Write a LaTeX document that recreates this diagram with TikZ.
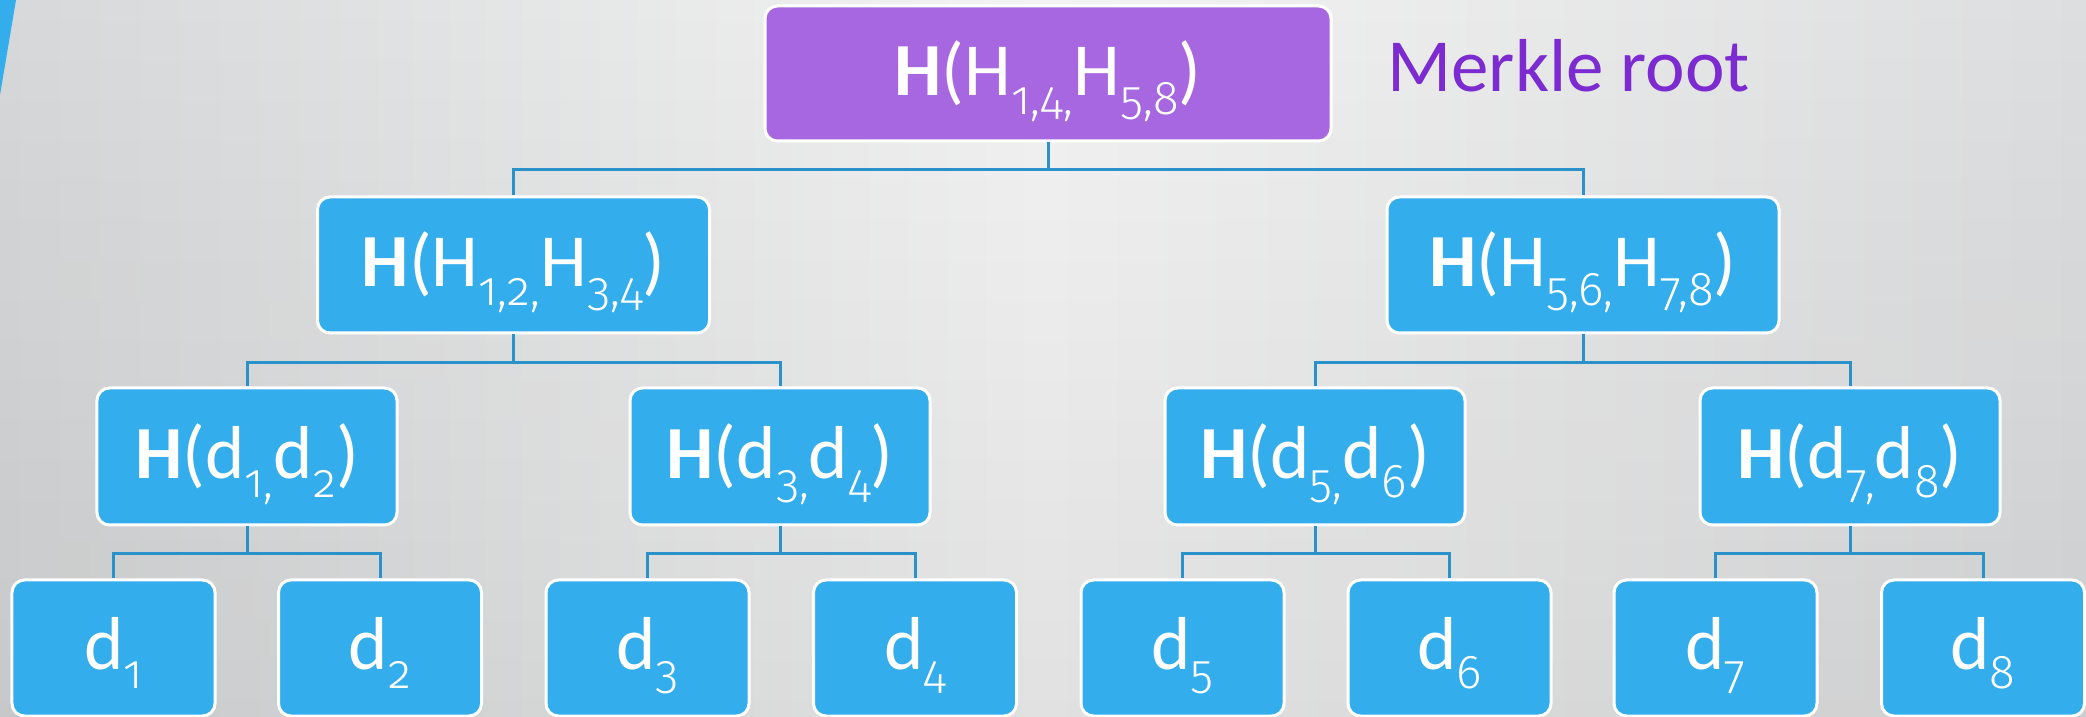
\documentclass[tikz,border=0pt]{standalone}
\usepackage{fontspec}
\usetikzlibrary{fadings}
\setmainfont{Carlito}
\newfontfamily\numfont{Fira Sans Light}[Numbers=OldStyle]
\definecolor{boxblue}{HTML}{33ADEB}
\definecolor{boxpurple}{HTML}{A667E0}
\definecolor{labpurple}{HTML}{7B2BCF}
\definecolor{connblue}{HTML}{2B91C9}
\definecolor{bgleft}{HTML}{D6D8D9}
\definecolor{bgmid}{HTML}{F3F3F3}
\definecolor{bgright}{HTML}{DDDEDF}
\newcommand{\sbs}[1]{\raisebox{-7.6pt}{\fontsize{19pt}{19pt}\selectfont\numfont #1}}
\tikzset{
  tbox/.style={draw=white, line width=1.2pt, rounded corners=5pt, fill=boxblue,
    text=white, inner sep=0pt, text height=17.6pt, text depth=0pt,
    font=\fontsize{30pt}{30pt}\selectfont},
  rootbox/.style={tbox, fill=boxpurple, minimum width=226.4pt, minimum height=54pt},
  lvlone/.style={tbox, minimum width=156.8pt, minimum height=54.4pt},
  lvltwo/.style={tbox, minimum width=120pt, minimum height=54.8pt},
  leafbox/.style={tbox, minimum width=81.2pt, minimum height=54.4pt},
  conn/.style={draw=connblue, line width=1.2pt}
}
\begin{document}
\begin{tikzpicture}[x=0.4pt,y=-0.4pt]
\useasboundingbox (0,0) rectangle (2086,717);
\shade[left color=bgleft, right color=bgright, middle color=bgmid] (0,0) rectangle (2086,717);
\fill[black, opacity=0.07, path fading=north] (0,0) rectangle (2086,717);
\fill[boxblue] (0,0) -- (16,0) -- (0,95) -- cycle;

\node[rootbox] (root) at (1048,73.5) {\textbf{H}(H\sbs{1,4,}H\sbs{5,8})};
\node[anchor=base west, inner sep=0pt, text=labpurple, font=\fontsize{30pt}{30pt}\selectfont] (lbl) at (1387,92) {Merkle root};

\node[lvlone] (a) at (513.5,265) {\textbf{H}(H\sbs{1,2,}H\sbs{3,4})};
\node[lvlone] (b) at (1583,265) {\textbf{H}(H\sbs{5,6,}H\sbs{7,8})};

\node[lvltwo] (a1) at (247,456.5) {\textbf{H}(d\sbs{1,}d\sbs{2})};
\node[lvltwo] (a2) at (780,456.5) {\textbf{H}(d\sbs{3,}d\sbs{4})};
\node[lvltwo] (b1) at (1315,456.5) {\textbf{H}(d\sbs{5,}d\sbs{6})};
\node[lvltwo] (b2) at (1850,456.5) {\textbf{H}(d\sbs{7,}d\sbs{8})};

\node[leafbox] (d1) at (113.5,648) {d\sbs{1}};
\node[leafbox] (d2) at (380,648) {d\sbs{2}};
\node[leafbox] (d3) at (647.5,648) {d\sbs{3}};
\node[leafbox] (d4) at (915,648) {d\sbs{4}};
\node[leafbox] (d5) at (1182.5,648) {d\sbs{5}};
\node[leafbox] (d6) at (1449.5,648) {d\sbs{6}};
\node[leafbox] (d7) at (1715.5,648) {d\sbs{7}};
\node[leafbox] (d8) at (1983,648) {d\sbs{8}};

\draw[conn] (root.south) -- ++(0,27) -| (a.north);
\draw[conn] (root.south) -- ++(0,27) -| (b.north);
\draw[conn] (a.south) -- ++(0,28) -| (a1.north);
\draw[conn] (a.south) -- ++(0,28) -| (a2.north);
\draw[conn] (b.south) -- ++(0,28) -| (b1.north);
\draw[conn] (b.south) -- ++(0,28) -| (b2.north);
\draw[conn] (a1.south) -- ++(0,27) -| (d1.north);
\draw[conn] (a1.south) -- ++(0,27) -| (d2.north);
\draw[conn] (a2.south) -- ++(0,27) -| (d3.north);
\draw[conn] (a2.south) -- ++(0,27) -| (d4.north);
\draw[conn] (b1.south) -- ++(0,27) -| (d5.north);
\draw[conn] (b1.south) -- ++(0,27) -| (d6.north);
\draw[conn] (b2.south) -- ++(0,27) -| (d7.north);
\draw[conn] (b2.south) -- ++(0,27) -| (d8.north);
\end{tikzpicture}
\end{document}
